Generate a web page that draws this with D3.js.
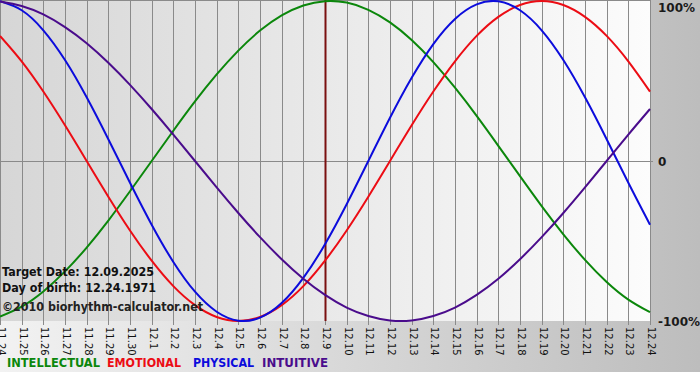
<!DOCTYPE html>
<html>
<head>
<meta charset="utf-8">
<script src="https://cdn.jsdelivr.net/npm/d3@7"></script>
<style>
  html, body { margin: 0; padding: 0; background: #fff; }
  svg { display: block; }
</style>
</head>
<body>
<svg id="chart"></svg>
<script>
// day labels along the bottom (month.day)
const days = ['11.24', '11.25', '11.26', '11.27', '11.28', '11.29', '11.30',
  '12.1', '12.2', '12.3', '12.4', '12.5', '12.6', '12.7', '12.8', '12.9',
  '12.10', '12.11', '12.12', '12.13', '12.14', '12.15', '12.16', '12.17',
  '12.18', '12.19', '12.20', '12.21', '12.22', '12.23', '12.24'];

const intellectual = [-0.972, -0.910, -0.815, -0.690, -0.541, -0.372, -0.189, 0.000, 0.189, 0.372,
  0.541, 0.690, 0.815, 0.910, 0.972, 0.999, 0.990, 0.945, 0.866, 0.756,
  0.618, 0.458, 0.282, 0.095, -0.095, -0.282, -0.458, -0.618, -0.756, -0.866, -0.945];

const emotional = [0.782, 0.623, 0.434, 0.223, 0.000, -0.223, -0.434, -0.623, -0.782, -0.901,
  -0.975, -1.000, -0.975, -0.901, -0.782, -0.623, -0.434, -0.223, 0.000, 0.223,
  0.434, 0.623, 0.782, 0.901, 0.975, 1.000, 0.975, 0.901, 0.782, 0.623, 0.434];

const physical = [0.998, 0.942, 0.817, 0.631, 0.398, 0.136, -0.136, -0.398, -0.631, -0.817,
  -0.942, -0.998, -0.979, -0.888, -0.731, -0.520, -0.270, 0.000, 0.270, 0.520,
  0.731, 0.888, 0.979, 0.998, 0.942, 0.817, 0.631, 0.398, 0.136, -0.136, -0.398];

const intuitive = [0.997, 0.969, 0.916, 0.837, 0.736, 0.614, 0.476, 0.325, 0.165, 0.000,
  -0.165, -0.325, -0.476, -0.614, -0.736, -0.837, -0.916, -0.969, -0.997, -0.997,
  -0.969, -0.916, -0.837, -0.736, -0.614, -0.476, -0.325, -0.165, 0.000, 0.165, 0.325];

const yTicks = [1, 0, -1];
const yTickLabels = ['100%', '0', '-100%'];
const targetIndex = 15;
const infoLines = ['Target Date: 12.09.2025', 'Day of birth: 12.24.1971', '\u00a92010 biorhythm-calculator.net'];
const legendNames = ['INTELLECTUAL', 'EMOTIONAL', 'PHYSICAL', 'INTUITIVE'];

const W = 700, H = 380;
const plot = { left: 0, top: 1, right: 650, bottom: 321 };

const svg = d3.select('#chart').attr('width', W).attr('height', H);

const defs = svg.append('defs');
const bgGrad = defs.append('linearGradient').attr('id', 'bg').attr('x1', 0).attr('x2', 1).attr('y1', 0).attr('y2', 0);
bgGrad.append('stop').attr('offset', '0%').attr('stop-color', '#f2f2f2');
bgGrad.append('stop').attr('offset', '100%').attr('stop-color', '#bdbdbd');
const plotGrad = defs.append('linearGradient').attr('id', 'plotbg').attr('x1', 0).attr('x2', 1).attr('y1', 0).attr('y2', 0);
plotGrad.append('stop').attr('offset', '0%').attr('stop-color', '#d6d6d6');
plotGrad.append('stop').attr('offset', '100%').attr('stop-color', '#fcfcfc');

svg.append('rect').attr('width', W).attr('height', 372).attr('fill', 'url(#bg)');
svg.append('rect').attr('y', 372).attr('width', W).attr('height', H - 372).attr('fill', '#fff');

const x = d3.scaleLinear().domain([0, days.length - 1]).range([plot.left, plot.right]);
const y = d3.scaleLinear().domain([-1, 1]).range([plot.bottom, plot.top]);

svg.append('rect')
  .attr('x', plot.left).attr('y', 0)
  .attr('width', plot.right - plot.left).attr('height', plot.bottom)
  .attr('fill', 'url(#plotbg)');

// vertical day grid with short ticks under the plot
svg.append('g')
  .selectAll('line')
  .data(days)
  .join('line')
  .attr('x1', (d, i) => Math.round(x(i)) + 0.5)
  .attr('x2', (d, i) => Math.round(x(i)) + 0.5)
  .attr('y1', 0)
  .attr('y2', plot.bottom + 4)
  .attr('stroke', '#8a8a8a')
  .attr('stroke-width', 1);

// top border and zero line
svg.append('line')
  .attr('x1', plot.left).attr('x2', plot.right + 1)
  .attr('y1', 0.5).attr('y2', 0.5)
  .attr('stroke', '#8a8a8a');
svg.append('line')
  .attr('x1', plot.left).attr('x2', plot.right + 3)
  .attr('y1', Math.round(y(0)) + 0.5).attr('y2', Math.round(y(0)) + 0.5)
  .attr('stroke', '#8a8a8a');

// day labels, rotated
svg.append('g')
  .selectAll('text')
  .data(days)
  .join('text')
  .attr('transform', (d, i) => `translate(${Math.round(x(i)) + 1},${plot.bottom + 6}) rotate(90)`)
  .attr('dy', '0.35em')
  .attr('font-family', 'DejaVu Sans, Verdana, sans-serif')
  .attr('font-size', 10)
  .attr('fill', '#111')
  .text(d => d);

// right-hand percentage labels (top one kept inside the picture)
svg.append('g')
  .selectAll('text')
  .data(yTicks)
  .join('text')
  .attr('x', 658)
  .attr('y', d => Math.max(y(d) + 5, 12))
  .attr('font-family', 'DejaVu Sans, Verdana, sans-serif')
  .attr('font-weight', 'bold')
  .attr('font-size', 12)
  .attr('fill', '#1a1a1a')
  .text((d, i) => yTickLabels[i]);

// target day marker
svg.append('line')
  .attr('x1', x(targetIndex) + 0.5).attr('x2', x(targetIndex) + 0.5)
  .attr('y1', 0).attr('y2', plot.bottom)
  .attr('stroke', '#7a1010')
  .attr('stroke-width', 2);

const series = [
  { name: legendNames[0], values: intellectual, color: '#0b870b' },
  { name: legendNames[1], values: emotional, color: '#ec0c14' },
  { name: legendNames[2], values: physical, color: '#0c0cdc' },
  { name: legendNames[3], values: intuitive, color: '#4a0c8c' }
];

const line = d3.line()
  .x((d, i) => x(i))
  .y(d => y(d))
  .curve(d3.curveNatural);

svg.append('g')
  .selectAll('path')
  .data(series)
  .join('path')
  .attr('d', d => line(d.values))
  .attr('fill', 'none')
  .attr('stroke', d => d.color)
  .attr('stroke-width', 2);

// info text bottom-left
const infoY = [276, 292, 311];
const infoW = [152, 154, 201];
svg.append('g')
  .selectAll('text')
  .data(infoLines)
  .join('text')
  .attr('x', 2)
  .attr('y', (d, i) => infoY[i])
  .attr('textLength', (d, i) => infoW[i])
  .attr('lengthAdjust', 'spacingAndGlyphs')
  .attr('font-family', 'DejaVu Sans, Verdana, sans-serif')
  .attr('font-weight', 'bold')
  .attr('font-size', (d, i) => i === 2 ? 12 : 11.5)
  .attr('fill', (d, i) => i === 2 ? '#222' : '#111')
  .text(d => d);

// legend
const legendX = [7, 107, 193, 262];
const legendW = [93, 74, 61, 66];
svg.append('g')
  .selectAll('text')
  .data(series)
  .join('text')
  .attr('x', (d, i) => legendX[i])
  .attr('y', 367)
  .attr('textLength', (d, i) => legendW[i])
  .attr('lengthAdjust', 'spacingAndGlyphs')
  .attr('font-family', 'DejaVu Sans, Verdana, sans-serif')
  .attr('font-weight', 'bold')
  .attr('font-size', 12)
  .attr('fill', d => d.color)
  .text(d => d.name);
</script>
</body>
</html>
